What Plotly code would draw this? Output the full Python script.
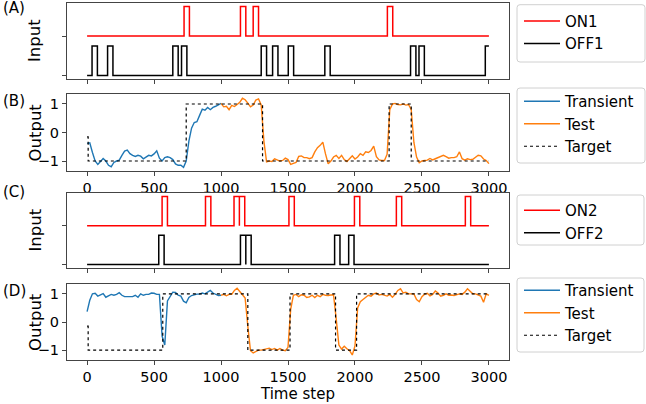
import plotly.graph_objects as go

# ---------------- data ----------------
T_END = 3000
PULSE_W = 40
PULSE_H = 0.75
ON_OFFSET = 1.0
STEP = 20
TRANSIENT_END = 1000

on1_starts = [724, 1145, 1240, 2242]
off1_starts = [37, 153, 640, 705, 1300, 1385, 1502, 1775, 2415, 2478, 2973]
on2_starts = [560, 884, 1097, 1137, 1507, 1996, 2309, 2824]
off2_starts = [535, 1145, 1185, 1848, 1953]

target_B_t = [0, 8, 740, 1310, 2255, 2420, 3000]
target_B_v = [-0.15, -1, 1, -1, 1, -1, -1]
target_D_t = [0, 8, 565, 1200, 1515, 1855, 2012, 3000]
target_D_v = [-0.15, -1, 1, -1, 1, -1, 1, 1]

# outputs sampled every STEP time steps (t = 0, 20, ..., 3000)
out_B = [
    -0.38, -0.36, -0.70, -1.00, -1.12, -1.02, -0.91, -1.00, -1.15, -1.20,
    -1.05, -1.00, -0.97, -0.80, -0.65, -0.62, -0.74, -0.80, -0.84, -0.80,
    -0.83, -0.92, -0.85, -0.80, -0.82, -0.75, -0.64, -0.90, -1.00, -0.88,
    -0.85, -0.88, -0.95, -1.10, -1.15, -1.15, -1.22, -1.00, -0.30, 0.15,
    0.35, 0.38, 0.60, 0.82, 0.78, 0.88, 0.80, 0.88, 0.92, 0.98,
    1.02,
    0.90, 0.92, 0.80, 0.95, 0.91, 0.98, 1.06, 1.20, 1.15, 1.03,
    0.90, 0.96, 1.14, 1.18, 0.97, -0.30, -1.03, -1.00, -1.02, -0.92,
    -0.96, -1.00, -0.98, -0.90, -0.95, -1.12, -1.08, -1.05, -0.84, -0.82,
    -0.88, -0.88, -0.92, -0.88, -0.68, -0.53, -0.45, -0.34, -0.75, -1.10,
    -1.00, -0.86, -0.80, -0.91, -0.80, -0.95, -1.02, -0.93, -0.82, -0.93,
    -0.86, -0.74, -0.80, -0.68, -0.70, -0.63, -0.48, -0.85, -0.96, -0.98,
    -0.98, -0.76, 0.80, 1.00, 1.02, 0.98, 0.97, 1.00, 0.96, 0.98,
    0.80, -0.35, -0.86, -1.06, -1.00, -0.98, -0.97, -0.91, -0.96, -0.92,
    -0.88, -0.82, -0.80, -0.85, -0.90, -0.88, -0.88, -0.85, -0.68, -0.92,
    -0.97, -0.92, -0.95, -0.94, -0.88, -0.80, -0.82, -0.93, -0.98, -1.09,
]

out_D = [
    0.37, 0.77, 1.00, 1.02, 0.92, 0.98, 1.01, 0.88, 0.92, 0.98,
    0.95, 0.98, 1.04, 0.95, 0.90, 0.90, 0.88, 0.90, 0.95, 0.88,
    1.00, 0.95, 0.98, 0.98, 1.03, 1.02, 0.98, 0.98, -0.50, -0.82,
    0.75, 0.93, 1.06, 1.05, 0.95, 0.92, 0.74, 0.68, 0.87, 0.94,
    0.97, 0.99, 0.99, 1.03, 1.00, 1.05, 1.12, 1.03, 0.99, 0.94,
    0.95,
    0.98, 0.93, 0.98, 0.98, 1.12, 1.20, 1.08, 1.00, 0.85, -0.15,
    -1.02, -1.10, -1.05, -1.00, -1.00, -0.98, -0.96, -0.93, -0.98, -0.94,
    -1.00, -0.94, -1.00, -1.02, -0.90, 0.45, 0.95, 0.98, 0.90, 0.97,
    0.95, 0.87, 0.89, 0.95, 0.87, 0.95, 0.90, 0.98, 0.95, 0.94,
    0.96, 0.97, 0.10, -0.82, -0.96, -0.86, -0.95, -1.02, -1.17, -0.85,
    0.50, 0.72, 0.80, 0.89, 0.95, 0.92, 1.00, 1.03, 0.96, 0.98,
    0.95, 0.92, 0.98, 0.88, 0.98, 1.12, 1.18, 1.03, 1.06, 1.00,
    1.00, 1.00, 0.80, 0.72, 0.90, 0.99, 1.02, 0.93, 0.98, 1.10,
    1.03, 0.92, 0.95, 1.00, 0.95, 0.96, 0.94, 0.98, 1.00, 0.98,
    1.06, 1.18, 1.10, 1.00, 1.00, 0.95, 0.92, 0.70, 1.00, 0.95,
]

x_ticks = [0, 500, 1000, 1500, 2000, 2500, 3000]

# ---------------- helpers ----------------
FONT = "DejaVu Sans"
BLUE = "#1f77b4"
ORANGE = "#ff7f0e"
AXC = "#444444"


def pulse_xy(starts, base):
    xs, ys = [0], [base]
    for s in starts:
        e = min(s + PULSE_W, T_END)
        xs += [s, s, e]
        ys += [base, base + PULSE_H, base + PULSE_H]
        if e < T_END:
            xs.append(e)
            ys.append(base)
    if xs[-1] < T_END:
        xs.append(T_END)
        ys.append(base)
    return xs, ys


t_grid = [i * STEP for i in range(len(out_B))]
split = TRANSIENT_END // STEP

fig = go.Figure()

# Panel A
for starts, base, col, name in [(on1_starts, ON_OFFSET, "red", "ON1"),
                                (off1_starts, 0.0, "black", "OFF1")]:
    xs, ys = pulse_xy(starts, base)
    fig.add_trace(go.Scatter(x=xs, y=ys, mode="lines", name=name,
                             line=dict(color=col, width=1.5),
                             xaxis="x", yaxis="y", legend="legend"))

# Panel B
fig.add_trace(go.Scatter(x=t_grid[:split + 1], y=out_B[:split + 1], mode="lines",
                         name="Transient", line=dict(color=BLUE, width=1.4),
                         xaxis="x2", yaxis="y2", legend="legend2"))
fig.add_trace(go.Scatter(x=t_grid[split:], y=out_B[split:], mode="lines",
                         name="Test", line=dict(color=ORANGE, width=1.4),
                         xaxis="x2", yaxis="y2", legend="legend2"))
fig.add_trace(go.Scatter(x=target_B_t, y=target_B_v, mode="lines", name="Target",
                         line=dict(color="black", width=1.2, dash="dot", shape="hv"),
                         xaxis="x2", yaxis="y2", legend="legend2"))

# Panel C
for starts, base, col, name in [(on2_starts, ON_OFFSET, "red", "ON2"),
                                (off2_starts, 0.0, "black", "OFF2")]:
    xs, ys = pulse_xy(starts, base)
    fig.add_trace(go.Scatter(x=xs, y=ys, mode="lines", name=name,
                             line=dict(color=col, width=1.5),
                             xaxis="x3", yaxis="y3", legend="legend3"))

# Panel D
fig.add_trace(go.Scatter(x=t_grid[:split + 1], y=out_D[:split + 1], mode="lines",
                         name="Transient", line=dict(color=BLUE, width=1.4),
                         xaxis="x4", yaxis="y4", legend="legend4"))
fig.add_trace(go.Scatter(x=t_grid[split:], y=out_D[split:], mode="lines",
                         name="Test", line=dict(color=ORANGE, width=1.4),
                         xaxis="x4", yaxis="y4", legend="legend4"))
fig.add_trace(go.Scatter(x=target_D_t, y=target_D_v, mode="lines", name="Target",
                         line=dict(color="black", width=1.2, dash="dot", shape="hv"),
                         xaxis="x4", yaxis="y4", legend="legend4"))

W, H = 646, 404
X0, X1 = 67, 509
boxes = {1: (3, 79), 2: (94, 171), 3: (193, 268), 4: (284, 360)}


def ydom(top, bot):
    return [1 - bot / H, 1 - top / H]


common_x = dict(range=[-150, 3150], tickvals=x_ticks, ticks="outside", ticklen=4,
                tickcolor=AXC, showline=True, linecolor=AXC, linewidth=1, mirror=True,
                showgrid=False, zeroline=False,
                tickfont=dict(family=FONT, size=14.5, color="black"),
                domain=[X0 / W, X1 / W])
common_y = dict(ticks="outside", ticklen=4, tickcolor=AXC, showline=True, linecolor=AXC,
                linewidth=1, mirror=True, showgrid=False, zeroline=False,
                tickfont=dict(family=FONT, size=14.5, color="black"))

layout = dict(width=W, height=H, margin=dict(l=0, r=0, t=0, b=0),
              plot_bgcolor="white", paper_bgcolor="white",
              font=dict(family=FONT, size=14, color="black"))
for i in range(1, 5):
    xa = dict(common_x)
    xa["anchor"] = "y" if i == 1 else f"y{i}"
    xa["showticklabels"] = i in (2, 4)
    ya = dict(common_y)
    ya["anchor"] = "x" if i == 1 else f"x{i}"
    ya["domain"] = ydom(*boxes[i])
    if i in (1, 3):
        ya.update(range=[-0.0875, 1.8375], tickvals=[0, 1], showticklabels=False)
    else:
        ya.update(range=[-1.35, 1.35], tickvals=[-1, 0, 1])
    layout["xaxis" if i == 1 else f"xaxis{i}"] = xa
    layout["yaxis" if i == 1 else f"yaxis{i}"] = ya

# legend frames (left, top, right, bottom) in pixels and legend item tops
frames = {1: (517, 4.7, 645, 62), 2: (517, 88, 645, 163),
          3: (517, 195, 644, 245), 4: (517, 278, 644, 352)}
leg_tops = {1: 4.7, 2: 85, 3: 194, 4: 274}
for i in range(1, 5):
    layout["legend" if i == 1 else f"legend{i}"] = dict(
        x=519 / W, xanchor="left", y=1 - leg_tops[i] / H, yanchor="top",
        bgcolor="rgba(0,0,0,0)", borderwidth=0,
        font=dict(family=FONT, size=15, color="black"),
        itemwidth=36)

shapes = []
R = 3.0
for i, (l, t, r, b) in frames.items():
    rx, ry = R / W, R / H
    L, Rr, T, B = l / W, r / W, 1 - t / H, 1 - b / H
    path = (f"M{L + rx},{T} L{Rr - rx},{T} Q{Rr},{T} {Rr},{T - ry} "
            f"L{Rr},{B + ry} Q{Rr},{B} {Rr - rx},{B} L{L + rx},{B} "
            f"Q{L},{B} {L},{B + ry} L{L},{T - ry} Q{L},{T} {L + rx},{T} Z")
    shapes.append(dict(type="path", path=path, xref="paper", yref="paper",
                       line=dict(color="#d0d0d0", width=1), fillcolor="white",
                       layer="below"))

fig.update_layout(**layout, shapes=shapes)

annots = []
for lbl, yc in [("(A)", 8), ("(B)", 101), ("(C)", 192), ("(D)", 291)]:
    annots.append(dict(text=lbl, x=1 / W, y=1 - yc / H, xref="paper", yref="paper",
                       xanchor="left", yanchor="middle", showarrow=False,
                       font=dict(family=FONT, size=15, color="black")))
for lbl, i in [("Input", 1), ("Output", 2), ("Input", 3), ("Output", 4)]:
    top, bot = boxes[i]
    annots.append(dict(text=lbl, x=35 / W, y=1 - (top + bot) / 2 / H, xref="paper",
                       yref="paper", xanchor="center", yanchor="middle", showarrow=False,
                       textangle=-90, font=dict(family=FONT, size=16.5, color="black")))
annots.append(dict(text="Time step", x=297 / W, y=1 - 394 / H, xref="paper", yref="paper",
                   xanchor="center", yanchor="middle", showarrow=False,
                   font=dict(family=FONT, size=15, color="black")))
fig.update_layout(annotations=annots)

fig.write_html("out.html")
